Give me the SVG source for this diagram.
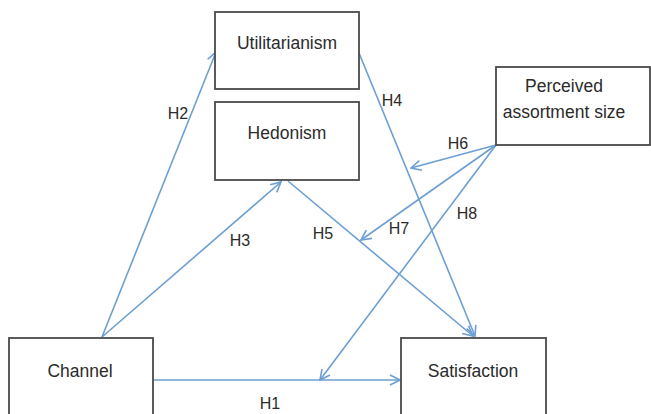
<svg xmlns="http://www.w3.org/2000/svg" width="651" height="414" viewBox="0 0 651 414">
<style>
.box{fill:#fff;stroke:#4a4a4a;stroke-width:1.8}
.t{font-family:"Liberation Sans",Arial,sans-serif;font-size:17.5px;fill:#2b2b2b;text-anchor:middle}
.lbl{font-family:"Liberation Sans",Arial,sans-serif;font-size:16px;fill:#2b2b2b;text-anchor:middle}
.c{stroke:#6d9fd2;stroke-width:1.6;fill:none;marker-end:url(#arr)}
</style>
<defs>
<marker id="arr" viewBox="0 0 12 12" refX="11" refY="6" markerWidth="12" markerHeight="12" markerUnits="userSpaceOnUse" orient="auto">
<path d="M1,1 L11,6 L1,11" fill="none" stroke="#6d9fd2" stroke-width="1.6"/>
</marker>
</defs>
<rect width="651" height="414" fill="#fff"/>
<g id="connectors">
<line class="c" x1="153" y1="380" x2="400" y2="380"/>
<line class="c" x1="102" y1="337" x2="216" y2="52"/>
<line class="c" x1="102" y1="337" x2="281" y2="182"/>
<line class="c" x1="359" y1="53" x2="475" y2="336"/>
<line class="c" x1="288" y1="181" x2="473" y2="336"/>
<line class="c" x1="496" y1="145" x2="411" y2="168"/>
<line class="c" x1="496" y1="145" x2="361" y2="240"/>
<line class="c" x1="496" y1="145" x2="320" y2="380"/>
</g>
<g id="labels">
<text class="lbl" x="178" y="119">H2</text>
<text class="lbl" x="240" y="246">H3</text>
<text class="lbl" x="392" y="106">H4</text>
<text class="lbl" x="323" y="239">H5</text>
<text class="lbl" x="458" y="149">H6</text>
<text class="lbl" x="399" y="234">H7</text>
<text class="lbl" x="467" y="219">H8</text>
<text class="lbl" x="270" y="409">H1</text>
</g>
<g id="utilitarianism">
<rect class="box" x="215" y="12" width="144" height="77"/>
<text class="t" x="287" y="49">Utilitarianism</text>
</g>
<g id="hedonism">
<rect class="box" x="215" y="102" width="144" height="78"/>
<text class="t" x="287" y="139">Hedonism</text>
</g>
<g id="perceived">
<rect class="box" x="496" y="67" width="154" height="78"/>
<text class="t" x="564" y="92">Perceived</text>
<text class="t" x="564" y="118">assortment size</text>
</g>
<g id="channel">
<rect class="box" x="9" y="338" width="144" height="84"/>
<text class="t" x="80" y="377">Channel</text>
</g>
<g id="satisfaction">
<rect class="box" x="401" y="338" width="145" height="84"/>
<text class="t" x="473" y="377">Satisfaction</text>
</g>
</svg>
